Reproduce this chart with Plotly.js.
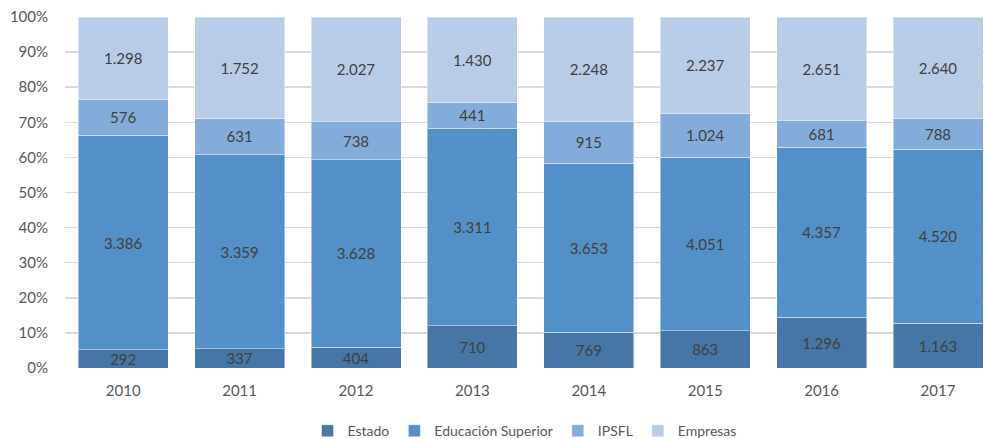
<!DOCTYPE html>
<html>
<head>
<meta charset="utf-8">
<script src="https://cdn.plot.ly/plotly-3.0.1.min.js"></script>
<style>html,body{margin:0;padding:0;background:#fff}#chart{width:984px;height:439px}</style>
</head>
<body>
<div id="chart"></div>
<script>
const years = ["2010","2011","2012","2013","2014","2015","2016","2017"];
const estado = [292, 337, 404, 710, 769, 863, 1296, 1163];
const educacionSuperior = [3386, 3359, 3628, 3311, 3653, 4051, 4357, 4520];
const ipsfl = [576, 631, 738, 441, 915, 1024, 681, 788];
const empresas = [1298, 1752, 2027, 1430, 2248, 2237, 2651, 2640];
const yTicks = [0,10,20,30,40,50,60,70,80,90,100];
const yTickLabels = yTicks.map(v => v + "%");

function fmt(v){ return String(v).replace(/\B(?=(\d{3})+(?!\d))/g, "."); }

const FONT = "Lato, 'Open Sans', sans-serif";
function series(name, vals, color){
  return {
    type: "bar", name: name, x: years, y: vals,
    text: vals.map(fmt), textposition: "inside", insidetextanchor: "middle",
    textangle: 0, constraintext: "none",
    textfont: {family: FONT, size: 15, color: "#404040"},
    marker: {color: color, line: {color: "rgba(255,255,255,0.45)", width: 1}},
    hoverinfo: "none"
  };
}
const data = [
  series("Estado", estado, "#4676a6"),
  series("Educación Superior", educacionSuperior, "#5390c7"),
  series("IPSFL", ipsfl, "#84acdb"),
  series("Empresas", empresas, "#b8cce8")
];
const layout = {
  width: 984, height: 439,
  margin: {l: 65, r: 0, t: 17, b: 71, autoexpand: false},
  barmode: "stack", barnorm: "percent", bargap: 0.227,
  paper_bgcolor: "#fff", plot_bgcolor: "#fff",
  font: {family: FONT, size: 15, color: "#595959"},
  xaxis: {type: "category", range: [-0.5, 7.395], showgrid: false, showline: false, zeroline: false,
          ticks: "", ticklabelstandoff: 12,
          tickfont: {family: FONT, size: 15, color: "#595959"}, automargin: false},
  yaxis: {range: [0, 100], tickvals: yTicks, ticktext: yTickLabels, showgrid: true,
          gridcolor: "#d9d9d9", gridwidth: 1.5, zeroline: false, showline: false, ticks: "",
          ticklabelstandoff: 16,
          tickfont: {family: FONT, size: 15, color: "#595959"}, automargin: false},
  showlegend: true,
  legend: {orientation: "h", x: 0.5, xanchor: "center", y: -0.18, yanchor: "middle",
           font: {family: FONT, size: 14, color: "#595959"}, traceorder: "normal",
           itemwidth: 30}
};
Plotly.newPlot("chart", data, layout, {displayModeBar: false, staticPlot: true});
</script>
</body>
</html>
